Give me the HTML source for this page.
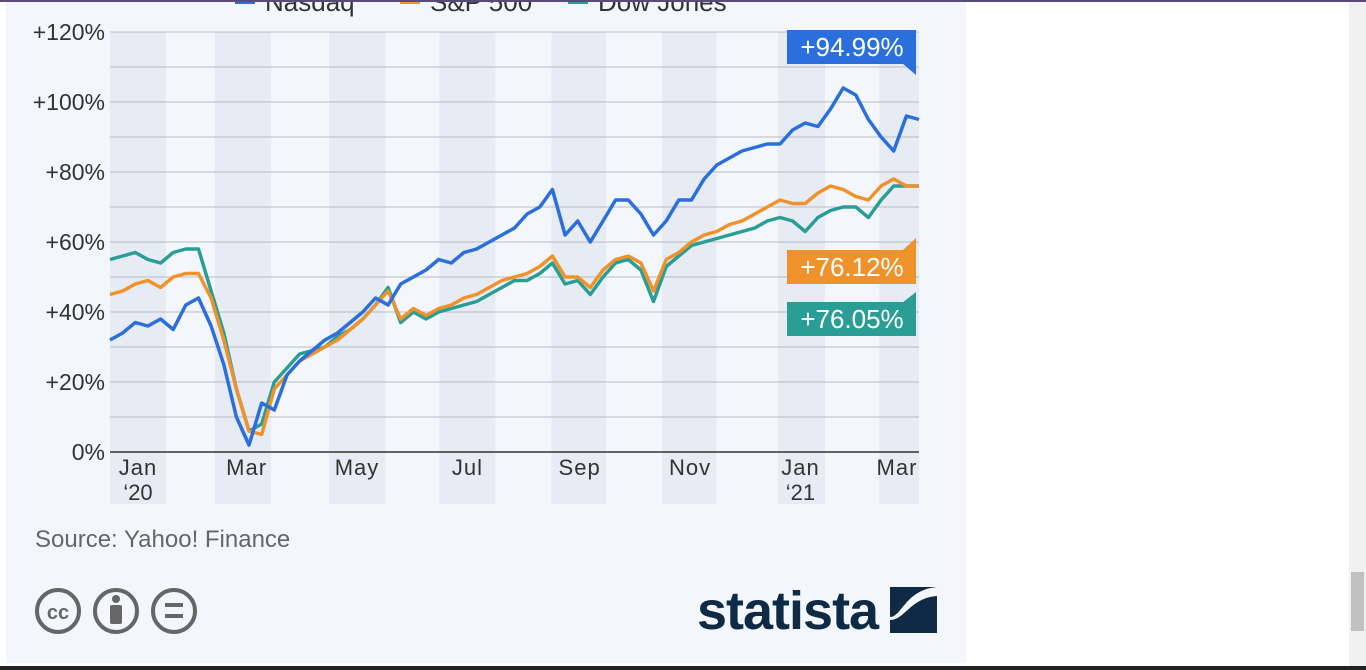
<!DOCTYPE html>
<html><head><meta charset="utf-8">
<style>
html,body{margin:0;padding:0;width:1366px;height:670px;overflow:hidden;background:#fff;font-family:"Liberation Sans",sans-serif}
#card{position:absolute;left:6px;top:0;width:960px;height:663px;background:#f3f6fb}
#topline{position:absolute;left:0;top:0;width:1366px;height:2px;background:#5a4a7a;z-index:5}
#botline{position:absolute;left:0;top:666px;width:1366px;height:4px;background:#222}
#scroll{position:absolute;left:1349px;top:0;width:17px;height:666px;background:#f1f1f1}
#thumb{position:absolute;left:1351px;top:572px;width:13px;height:59px;background:#c1c1c1}
</style></head>
<body>
<div id="card"></div>
<div id="scroll"></div>
<div id="thumb"></div>
<div id="botline"></div>
<svg id="chart" width="1366" height="670" style="position:absolute;left:0;top:0" font-family="Liberation Sans, sans-serif"></svg>
<div id="topline"></div>
<script>
const monthLabels=["Jan","Mar","May","Jul","Sep","Nov","Jan","Mar"];
const monthSub=["‘20","","","","","","‘21",""];
const monthStartDay=[0,60,121,182,244,305,366,425];
const bandDays=[[0,31],[58,89],[121,152],[182,213],[244,274],[305,335],[369,395],[425,447]];
const yTicks=[0,20,40,60,80,100,120];
const nasdaq=[32,34,37,36,38,35,42,44,36,25,10,2,14,12,22,26,29,32,34,37,40,44,42,48,50,52,55,54,57,58,
60,62,64,68,70,75,62,66,60,66,72,72,68,62,66,72,72,78,82,84,86,87,88,88,92,94,93,98,104,102,95,90,86,96,95];
const sp500=[45,46,48,49,47,50,51,51,44,32,18,6,5,18,22,26,28,30,32,35,38,42,46,38,41,39,41,42,44,45,
47,49,50,51,53,56,50,50,47,52,55,56,54,46,55,57,60,62,63,65,66,68,70,72,71,71,74,76,75,73,72,76,78,76,76];
const dow=[55,56,57,55,54,57,58,58,46,34,18,6,8,20,24,28,29,30,33,35,38,42,47,37,40,38,40,41,42,43,
45,47,49,49,51,54,48,49,45,50,54,55,52,43,53,56,59,60,61,62,63,64,66,67,66,63,67,69,70,70,67,72,76,76,76];
const finalLabels=["+94.99%","+76.12%","+76.05%"];
const legendNames=["Nasdaq","S&P 500","Dow Jones"];

const X0=110,X1=919,Y0=452,PXPCT=3.5,PXDAY=1.81;
const xd=d=>X0+d*PXDAY;
const y=v=>Y0-v*PXPCT;
const svg=document.getElementById('chart');
const NS='http://www.w3.org/2000/svg';
function mk(t,a,p){const e=document.createElementNS(NS,t);for(const k in a)e.setAttribute(k,a[k]);(p||svg).appendChild(e);return e;}

bandDays.forEach(b=>{
  const r=mk('rect',{x:xd(b[0]),y:32,width:Math.min(xd(b[1]),X1+1)-xd(b[0]),height:472,fill:'#e6ebf4'});
  
  
});
for(let v=0;v<=120;v+=10){
  const l=mk('line',{x1:X0,x2:X1,y1:y(v),y2:y(v),stroke:v===0?'#333':'#b8bcc4','stroke-width':v===0?1.5:1});
  
  
}
yTicks.forEach(v=>{
  const t=mk('text',{x:105,y:y(v)+8,'text-anchor':'end','font-size':23,fill:'#333'});
  t.textContent=(v===0?'':'+')+v+'%';
  
  
});
monthLabels.forEach((m,i)=>{
  const cx=Math.min(xd(monthStartDay[i])+28,897);
  const t=mk('text',{x:cx,y:475,'text-anchor':'middle','font-size':22,fill:'#333','letter-spacing':'1'});
  t.textContent=m;
  
  
  if(monthSub[i]){
    const s=mk('text',{x:cx,y:500,'text-anchor':'middle','font-size':22,fill:'#333'});
    s.textContent=monthSub[i];
    
    
  }
});
const series=[[nasdaq,'#2a6fdb','nasdaq-line'],[sp500,'#f0922b','sp500-line'],[dow,'#2a9d95','dow-line']];
[series[2],series[1],series[0]].forEach(s=>{
  const step=(X1-X0)/(s[0].length-1);
  const d=s[0].map((v,i)=>(i?'L':'M')+(X0+i*step).toFixed(1)+','+y(v).toFixed(1)).join('');
  const p=mk('path',{d:d,fill:'none',stroke:s[1],'stroke-width':3.5,'stroke-linejoin':'round'});
  
  
});
const lg=[[235,'#2a6fdb'],[400,'#f0922b'],[568,'#2a9d95']];
lg.forEach((l,i)=>{
  const r=mk('rect',{x:l[0],y:-6,width:20,height:10,fill:l[1]});
  
  
  const t=mk('text',{x:l[0]+30,y:11,'font-size':26,fill:'#333'});
  t.textContent=legendNames[i];
  
  
});
const boxes=[[30,'#2a6fdb','down',75],[250,'#f0922b','up',238],[302,'#2a9d95','up',292]];
boxes.forEach((b,i)=>{
  const g=mk('g',{});
  
  
  mk('rect',{x:787,y:b[0],width:129,height:34,fill:b[1]},g);
  if(b[2]==='down') mk('polygon',{points:`902,${b[0]+33} 916,${b[0]+33} 916,${b[3]}`,fill:b[1]},g);
  else mk('polygon',{points:`902,${b[0]+1} 916,${b[0]+1} 916,${b[3]}`,fill:b[1]},g);
  const t=mk('text',{x:852,y:b[0]+26,'text-anchor':'middle','font-size':26,fill:'#fff'},g);
  t.textContent=finalLabels[i];
});
const src=mk('text',{x:35,y:547,'font-size':24,fill:'#666'});
src.textContent='Source: Yahoo! Finance';


[[58,'cc'],[116,'by'],[174,'eq']].forEach(c=>{
  const g=mk('g',{});
  
  
  mk('circle',{cx:c[0],cy:611,r:21,fill:'none',stroke:'#666','stroke-width':4},g);
  if(c[1]==='cc'){const t=mk('text',{x:c[0],y:619,'text-anchor':'middle','font-size':20,'font-weight':'bold',fill:'#666'},g);t.textContent='cc';}
  if(c[1]==='by'){mk('circle',{cx:c[0],cy:599,r:4,fill:'#666'},g);mk('rect',{x:c[0]-6,y:605,width:12,height:19,rx:2,fill:'#666'},g);}
  if(c[1]==='eq'){mk('rect',{x:c[0]-9,y:603,width:18,height:4,fill:'#666'},g);mk('rect',{x:c[0]-9,y:614,width:18,height:4,fill:'#666'},g);}
});
const logo=mk('text',{x:697,y:629,'font-size':54,'font-weight':'bold',fill:'#0f2a45','letter-spacing':'-1'});
logo.textContent='statista';


const lm=mk('path',{d:'M890,587 H937 V633 H890 Z M890,620 C905,620 910,598 937,596 V587 C905,590 902,617 890,617 Z',fill:'#0f2a45'});
lm.setAttribute('fill-rule','evenodd');


</script>
</body></html>
